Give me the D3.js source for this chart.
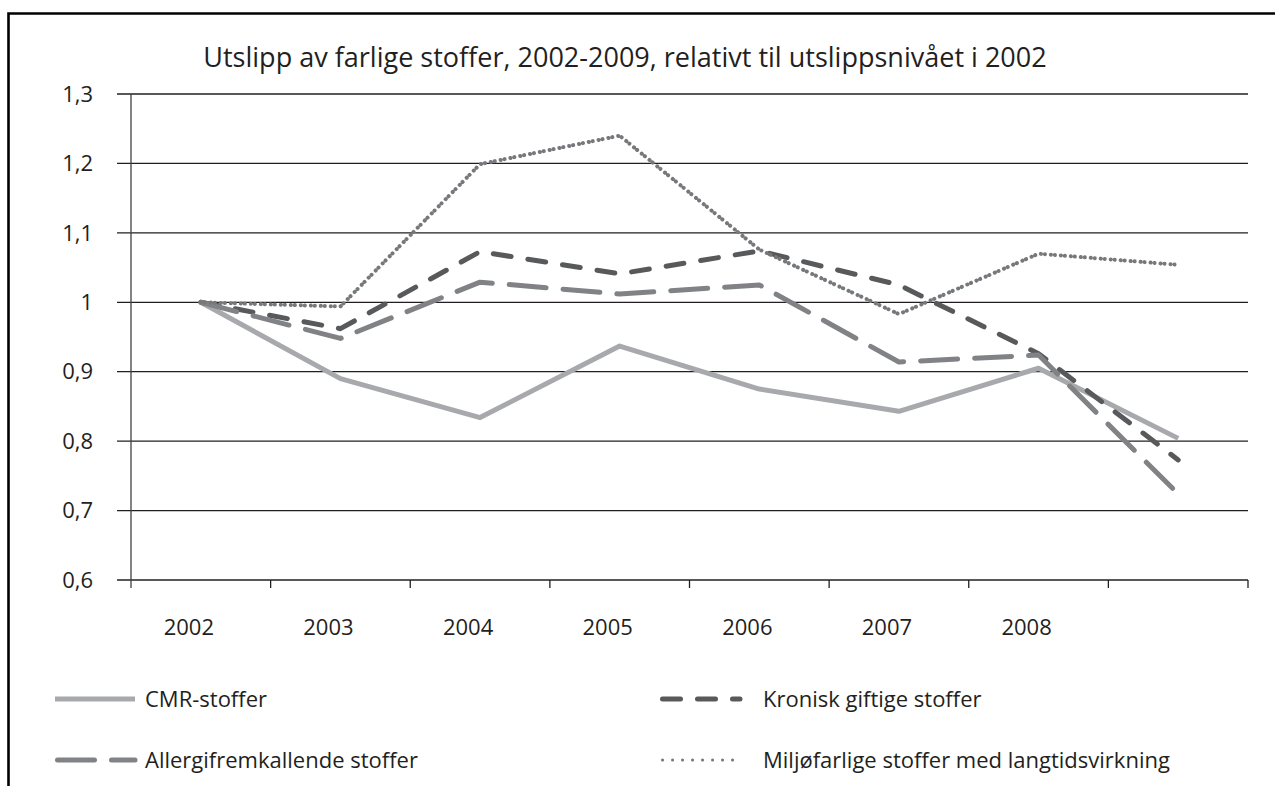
<!DOCTYPE html>
<meta charset="utf-8">
<style>
body { margin: 0; background: #fff; }
text { font-family: "Open Sans", "Noto Sans", sans-serif; fill: #231f20; }
.grid line { stroke: #231f20; stroke-width: 1.3px; }
.series { fill: none; stroke-linejoin: round; }
</style>
<body>
<script src="https://cdn.jsdelivr.net/npm/d3@7/dist/d3.min.js"></script>
<script>

var width = 1275,
    height = 786;

var title = "Utslipp av farlige stoffer, 2002-2009, relativt til utslippsnivået i 2002";

var years = ["2002", "2003", "2004", "2005", "2006", "2007", "2008", "2009"];
var yearLabels = ["2002", "2003", "2004", "2005", "2006", "2007", "2008", ""];

var yTicks = [0.6, 0.7, 0.8, 0.9, 1.0, 1.1, 1.2, 1.3];
var yTickLabels = ["0,6", "0,7", "0,8", "0,9", "1", "1,1", "1,2", "1,3"];

var cmr      = [1.0, 0.890, 0.834, 0.937, 0.875, 0.843, 0.905, 0.804];
var kronisk  = [1.0, 0.962, 1.073, 1.041, 1.074, 1.025, 0.926, 0.773];
var allergi  = [1.0, 0.948, 1.029, 1.012, 1.025, 0.914, 0.924, 0.724];
var miljo    = [1.0, 0.994, 1.199, 1.240, 1.076, 0.983, 1.070, 1.054];

var series = [
  {name: "CMR-stoffer", values: cmr, color: "#a7a9ac", width: 5, dash: null, legendDash: null, cap: "butt"},
  {name: "Kronisk giftige stoffer", values: kronisk, color: "#58595b", width: 5, dash: "18 17", legendDash: "18 17", cap: "round"},
  {name: "Allergifremkallende stoffer", values: allergi, color: "#808285", width: 5, dash: "37 17", legendDash: "37 17", cap: "round"},
  {name: "Miljøfarlige stoffer med langtidsvirkning", values: miljo, color: "#77787b", width: 4, dash: "0.1 3.9 0.1 5.9", legendDash: "0.1 9.9", cap: "round"}
];

var plotLeft = 131, plotRight = 1248, plotTop = 94, plotBottom = 580;

var x = d3.scaleBand()
    .domain(years)
    .range([plotLeft, plotRight]);

var y = d3.scaleLinear()
    .domain([0.6, 1.3])
    .range([plotBottom, plotTop]);

var svg = d3.select("body").append("svg")
    .attr("width", width)
    .attr("height", height);

// frame (top and left edges only)
svg.append("path")
    .attr("d", "M8.5," + height + "V13.5H" + width)
    .attr("fill", "none")
    .attr("stroke", "#000")
    .attr("stroke-width", 2.6);

// title, scaled to span the same width as the original
var t = svg.append("text")
    .attr("x", 625)
    .attr("y", 67)
    .attr("text-anchor", "middle")
    .style("font-size", "24px")
    .text(title);
var tl = t.node().getComputedTextLength();
t.style("font-size", (24 * 844 / tl) + "px");

// horizontal gridlines, extended left as tick marks
var grid = svg.append("g").attr("class", "grid");
grid.selectAll("line")
    .data(yTicks)
  .enter().append("line")
    .attr("x1", plotLeft - 14)
    .attr("x2", plotRight)
    .attr("y1", function(d) { return y(d); })
    .attr("y2", function(d) { return y(d); });

// y labels
svg.append("g").selectAll("text")
    .data(yTicks)
  .enter().append("text")
    .attr("x", 93)
    .attr("y", function(d) { return y(d); })
    .attr("dy", "0.35em")
    .attr("text-anchor", "end")
    .style("font-size", "22px")
    .text(function(d, i) { return yTickLabels[i]; });

// y axis line
svg.append("line")
    .attr("x1", plotLeft).attr("x2", plotLeft)
    .attr("y1", plotTop).attr("y2", plotBottom + 8)
    .attr("stroke", "#414042")
    .attr("stroke-width", 1.3);

// x ticks between categories
var xTickPos = years.map(function(d) { return x(d); }).concat([plotRight]);
svg.append("g").selectAll("line")
    .data(xTickPos.slice(1))
  .enter().append("line")
    .attr("x1", function(d) { return d; })
    .attr("x2", function(d) { return d; })
    .attr("y1", plotBottom)
    .attr("y2", plotBottom + 8)
    .attr("stroke", "#231f20")
    .attr("stroke-width", 1.3);

// x labels
svg.append("g").selectAll("text")
    .data(years)
  .enter().append("text")
    .attr("x", function(d) { return x(d) + x.bandwidth() / 2 - 12; })
    .attr("y", 635)
    .attr("text-anchor", "middle")
    .style("font-size", "22px")
    .text(function(d, i) { return yearLabels[i]; });

var line = d3.line()
    .x(function(d, i) { return x(years[i]) + x.bandwidth() / 2; })
    .y(function(d) { return y(d); });

svg.append("g").selectAll("path")
    .data(series)
  .enter().append("path")
    .attr("class", "series")
    .attr("d", function(d) { return line(d.values); })
    .attr("stroke", function(d) { return d.color; })
    .attr("stroke-width", function(d) { return d.width; })
    .attr("stroke-dasharray", function(d) { return d.dash; })
    .attr("stroke-linecap", function(d) { return d.cap; });

// legend, two columns
var legendPos = [[55, 699], [660, 699], [55, 760], [660, 760]];

var lg = svg.append("g").selectAll("g")
    .data(series)
  .enter().append("g")
    .attr("transform", function(d, i) { return "translate(" + legendPos[i][0] + "," + legendPos[i][1] + ")"; });

lg.append("line")
    .attr("x1", function(d) { return d.cap === "round" ? 2.5 : 0; })
    .attr("x2", 80)
    .attr("stroke", function(d) { return d.color; })
    .attr("stroke-width", function(d, i) { return i === 3 ? 3 : d.width; })
    .attr("stroke-dasharray", function(d) { return d.legendDash; })
    .attr("stroke-linecap", function(d) { return d.cap; });

lg.append("text")
    .attr("x", function(d, i) { return i % 2 ? 103 : 90; })
    .attr("y", 0)
    .attr("dy", "0.35em")
    .style("font-size", "22px")
    .text(function(d) { return d.name; });

</script>
